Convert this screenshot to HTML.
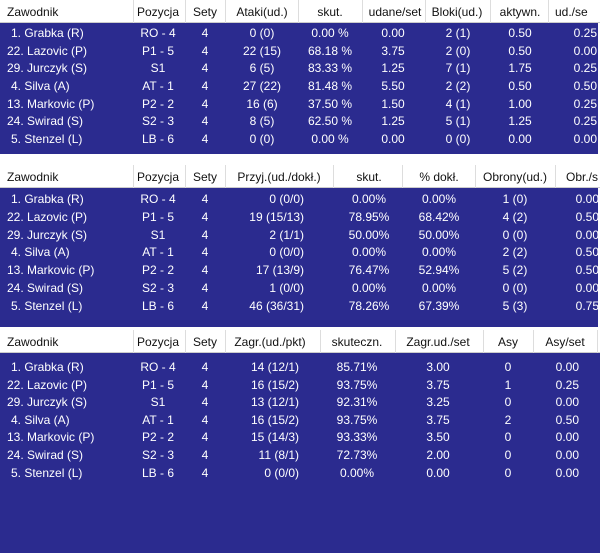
<!DOCTYPE html>
<html><head><meta charset="utf-8"><style>
*{margin:0;padding:0;box-sizing:border-box}
body{width:600px;height:553px;background:#fff;position:relative;overflow:hidden;font-family:"Liberation Sans",Arial,sans-serif;font-size:12px}
.b{position:absolute;left:0;width:598px;background:#2b2b8f}
.h{position:absolute;left:0;width:600px;height:23px;background:#fff;border-bottom:1px solid #ccc}
.h span{position:absolute;top:5px;color:#111;white-space:nowrap}
.s{position:absolute;top:0;width:1px;height:23px;background:#ddd}
.r{position:absolute;left:0;width:600px;height:16px;color:#fff}
.r span{position:absolute;top:0;white-space:nowrap}
.c{transform:translateX(-50%)}
.rt{transform:translateX(-100%)}
</style></head><body>
<div class="b" style="top:23px;height:131px"></div>
<div class="b" style="top:188px;height:139px"></div>
<div class="b" style="top:353px;height:200px;width:600px"></div>

<!-- table 1 header -->
<div class="h" style="top:0">
<span style="left:7px">Zawodnik</span><span class="c" style="left:158px">Pozycja</span><span class="c" style="left:205px">Sety</span><span class="c" style="left:262px">Ataki(ud.)</span><span class="c" style="left:330px">skut.</span><span class="c" style="left:395px">udane/set</span><span class="c" style="left:457px">Bloki(ud.)</span><span class="c" style="left:520px">aktywn.</span><span style="left:555px">ud./se</span>
<i class="s" style="left:133px"></i><i class="s" style="left:185px"></i><i class="s" style="left:225px"></i><i class="s" style="left:298px"></i><i class="s" style="left:362px"></i><i class="s" style="left:425px"></i><i class="s" style="left:490px"></i><i class="s" style="left:548px"></i>
</div>
<div class="r" style="top:26px"><span style="left:11px">1. Grabka (R)</span><span class="c" style="left:158px">RO - 4</span><span class="c" style="left:205px">4</span><span class="c" style="left:262px">0 (0)</span><span class="c" style="left:330px">0.00 %</span><span class="c" style="left:393px">0.00</span><span class="c" style="left:458px">2 (1)</span><span class="c" style="left:520px">0.50</span><span class="rt" style="left:597px">0.25</span></div>
<div class="r" style="top:44px"><span style="left:7px">22. Lazovic (P)</span><span class="c" style="left:158px">P1 - 5</span><span class="c" style="left:205px">4</span><span class="c" style="left:262px">22 (15)</span><span class="c" style="left:330px">68.18 %</span><span class="c" style="left:393px">3.75</span><span class="c" style="left:458px">2 (0)</span><span class="c" style="left:520px">0.50</span><span class="rt" style="left:597px">0.00</span></div>
<div class="r" style="top:61px"><span style="left:7px">29. Jurczyk (S)</span><span class="c" style="left:158px">S1</span><span class="c" style="left:205px">4</span><span class="c" style="left:262px">6 (5)</span><span class="c" style="left:330px">83.33 %</span><span class="c" style="left:393px">1.25</span><span class="c" style="left:458px">7 (1)</span><span class="c" style="left:520px">1.75</span><span class="rt" style="left:597px">0.25</span></div>
<div class="r" style="top:79px"><span style="left:11px">4. Silva (A)</span><span class="c" style="left:158px">AT - 1</span><span class="c" style="left:205px">4</span><span class="c" style="left:262px">27 (22)</span><span class="c" style="left:330px">81.48 %</span><span class="c" style="left:393px">5.50</span><span class="c" style="left:458px">2 (2)</span><span class="c" style="left:520px">0.50</span><span class="rt" style="left:597px">0.50</span></div>
<div class="r" style="top:97px"><span style="left:7px">13. Markovic (P)</span><span class="c" style="left:158px">P2 - 2</span><span class="c" style="left:205px">4</span><span class="c" style="left:262px">16 (6)</span><span class="c" style="left:330px">37.50 %</span><span class="c" style="left:393px">1.50</span><span class="c" style="left:458px">4 (1)</span><span class="c" style="left:520px">1.00</span><span class="rt" style="left:597px">0.25</span></div>
<div class="r" style="top:114px"><span style="left:7px">24. Swirad (S)</span><span class="c" style="left:158px">S2 - 3</span><span class="c" style="left:205px">4</span><span class="c" style="left:262px">8 (5)</span><span class="c" style="left:330px">62.50 %</span><span class="c" style="left:393px">1.25</span><span class="c" style="left:458px">5 (1)</span><span class="c" style="left:520px">1.25</span><span class="rt" style="left:597px">0.25</span></div>
<div class="r" style="top:132px"><span style="left:11px">5. Stenzel (L)</span><span class="c" style="left:158px">LB - 6</span><span class="c" style="left:205px">4</span><span class="c" style="left:262px">0 (0)</span><span class="c" style="left:330px">0.00 %</span><span class="c" style="left:393px">0.00</span><span class="c" style="left:458px">0 (0)</span><span class="c" style="left:520px">0.00</span><span class="rt" style="left:597px">0.00</span></div>

<!-- table 2 -->
<div class="h" style="top:165px">
<span style="left:7px">Zawodnik</span><span class="c" style="left:158px">Pozycja</span><span class="c" style="left:205px">Sety</span><span class="c" style="left:279px">Przyj.(ud./dokł.)</span><span class="c" style="left:369px">skut.</span><span class="c" style="left:439px">% dokł.</span><span class="c" style="left:515px">Obrony(ud.)</span><span style="left:566px">Obr./s</span>
<i class="s" style="left:133px"></i><i class="s" style="left:185px"></i><i class="s" style="left:225px"></i><i class="s" style="left:333px"></i><i class="s" style="left:402px"></i><i class="s" style="left:475px"></i><i class="s" style="left:555px"></i>
</div>
<div class="r" style="top:192px"><span style="left:11px">1. Grabka (R)</span><span class="c" style="left:158px">RO - 4</span><span class="c" style="left:205px">4</span><span class="rt" style="left:304px">0 (0/0)</span><span class="c" style="left:369px">0.00%</span><span class="c" style="left:439px">0.00%</span><span class="c" style="left:515px">1 (0)</span><span class="rt" style="left:599px">0.00</span></div>
<div class="r" style="top:210px"><span style="left:7px">22. Lazovic (P)</span><span class="c" style="left:158px">P1 - 5</span><span class="c" style="left:205px">4</span><span class="rt" style="left:304px">19 (15/13)</span><span class="c" style="left:369px">78.95%</span><span class="c" style="left:439px">68.42%</span><span class="c" style="left:515px">4 (2)</span><span class="rt" style="left:599px">0.50</span></div>
<div class="r" style="top:228px"><span style="left:7px">29. Jurczyk (S)</span><span class="c" style="left:158px">S1</span><span class="c" style="left:205px">4</span><span class="rt" style="left:304px">2 (1/1)</span><span class="c" style="left:369px">50.00%</span><span class="c" style="left:439px">50.00%</span><span class="c" style="left:515px">0 (0)</span><span class="rt" style="left:599px">0.00</span></div>
<div class="r" style="top:245px"><span style="left:11px">4. Silva (A)</span><span class="c" style="left:158px">AT - 1</span><span class="c" style="left:205px">4</span><span class="rt" style="left:304px">0 (0/0)</span><span class="c" style="left:369px">0.00%</span><span class="c" style="left:439px">0.00%</span><span class="c" style="left:515px">2 (2)</span><span class="rt" style="left:599px">0.50</span></div>
<div class="r" style="top:263px"><span style="left:7px">13. Markovic (P)</span><span class="c" style="left:158px">P2 - 2</span><span class="c" style="left:205px">4</span><span class="rt" style="left:304px">17 (13/9)</span><span class="c" style="left:369px">76.47%</span><span class="c" style="left:439px">52.94%</span><span class="c" style="left:515px">5 (2)</span><span class="rt" style="left:599px">0.50</span></div>
<div class="r" style="top:281px"><span style="left:7px">24. Swirad (S)</span><span class="c" style="left:158px">S2 - 3</span><span class="c" style="left:205px">4</span><span class="rt" style="left:304px">1 (0/0)</span><span class="c" style="left:369px">0.00%</span><span class="c" style="left:439px">0.00%</span><span class="c" style="left:515px">0 (0)</span><span class="rt" style="left:599px">0.00</span></div>
<div class="r" style="top:299px"><span style="left:11px">5. Stenzel (L)</span><span class="c" style="left:158px">LB - 6</span><span class="c" style="left:205px">4</span><span class="rt" style="left:304px">46 (36/31)</span><span class="c" style="left:369px">78.26%</span><span class="c" style="left:439px">67.39%</span><span class="c" style="left:515px">5 (3)</span><span class="rt" style="left:599px">0.75</span></div>

<!-- table 3 -->
<div class="h" style="top:330px">
<span style="left:7px">Zawodnik</span><span class="c" style="left:158px">Pozycja</span><span class="c" style="left:205px">Sety</span><span class="c" style="left:270px">Zagr.(ud./pkt)</span><span class="c" style="left:357px">skuteczn.</span><span class="c" style="left:438px">Zagr.ud./set</span><span class="c" style="left:508px">Asy</span><span class="c" style="left:565px">Asy/set</span>
<i class="s" style="left:133px"></i><i class="s" style="left:185px"></i><i class="s" style="left:225px"></i><i class="s" style="left:320px"></i><i class="s" style="left:395px"></i><i class="s" style="left:483px"></i><i class="s" style="left:533px"></i><i class="s" style="left:597px"></i>
</div>
<div class="r" style="top:360px"><span style="left:11px">1. Grabka (R)</span><span class="c" style="left:158px">RO - 4</span><span class="c" style="left:205px">4</span><span class="rt" style="left:299px">14 (12/1)</span><span class="c" style="left:357px">85.71%</span><span class="c" style="left:438px">3.00</span><span class="c" style="left:508px">0</span><span class="rt" style="left:579px">0.00</span></div>
<div class="r" style="top:378px"><span style="left:7px">22. Lazovic (P)</span><span class="c" style="left:158px">P1 - 5</span><span class="c" style="left:205px">4</span><span class="rt" style="left:299px">16 (15/2)</span><span class="c" style="left:357px">93.75%</span><span class="c" style="left:438px">3.75</span><span class="c" style="left:508px">1</span><span class="rt" style="left:579px">0.25</span></div>
<div class="r" style="top:395px"><span style="left:7px">29. Jurczyk (S)</span><span class="c" style="left:158px">S1</span><span class="c" style="left:205px">4</span><span class="rt" style="left:299px">13 (12/1)</span><span class="c" style="left:357px">92.31%</span><span class="c" style="left:438px">3.25</span><span class="c" style="left:508px">0</span><span class="rt" style="left:579px">0.00</span></div>
<div class="r" style="top:413px"><span style="left:11px">4. Silva (A)</span><span class="c" style="left:158px">AT - 1</span><span class="c" style="left:205px">4</span><span class="rt" style="left:299px">16 (15/2)</span><span class="c" style="left:357px">93.75%</span><span class="c" style="left:438px">3.75</span><span class="c" style="left:508px">2</span><span class="rt" style="left:579px">0.50</span></div>
<div class="r" style="top:430px"><span style="left:7px">13. Markovic (P)</span><span class="c" style="left:158px">P2 - 2</span><span class="c" style="left:205px">4</span><span class="rt" style="left:299px">15 (14/3)</span><span class="c" style="left:357px">93.33%</span><span class="c" style="left:438px">3.50</span><span class="c" style="left:508px">0</span><span class="rt" style="left:579px">0.00</span></div>
<div class="r" style="top:448px"><span style="left:7px">24. Swirad (S)</span><span class="c" style="left:158px">S2 - 3</span><span class="c" style="left:205px">4</span><span class="rt" style="left:299px">11 (8/1)</span><span class="c" style="left:357px">72.73%</span><span class="c" style="left:438px">2.00</span><span class="c" style="left:508px">0</span><span class="rt" style="left:579px">0.00</span></div>
<div class="r" style="top:466px"><span style="left:11px">5. Stenzel (L)</span><span class="c" style="left:158px">LB - 6</span><span class="c" style="left:205px">4</span><span class="rt" style="left:299px">0 (0/0)</span><span class="c" style="left:357px">0.00%</span><span class="c" style="left:438px">0.00</span><span class="c" style="left:508px">0</span><span class="rt" style="left:579px">0.00</span></div>
</body></html>
